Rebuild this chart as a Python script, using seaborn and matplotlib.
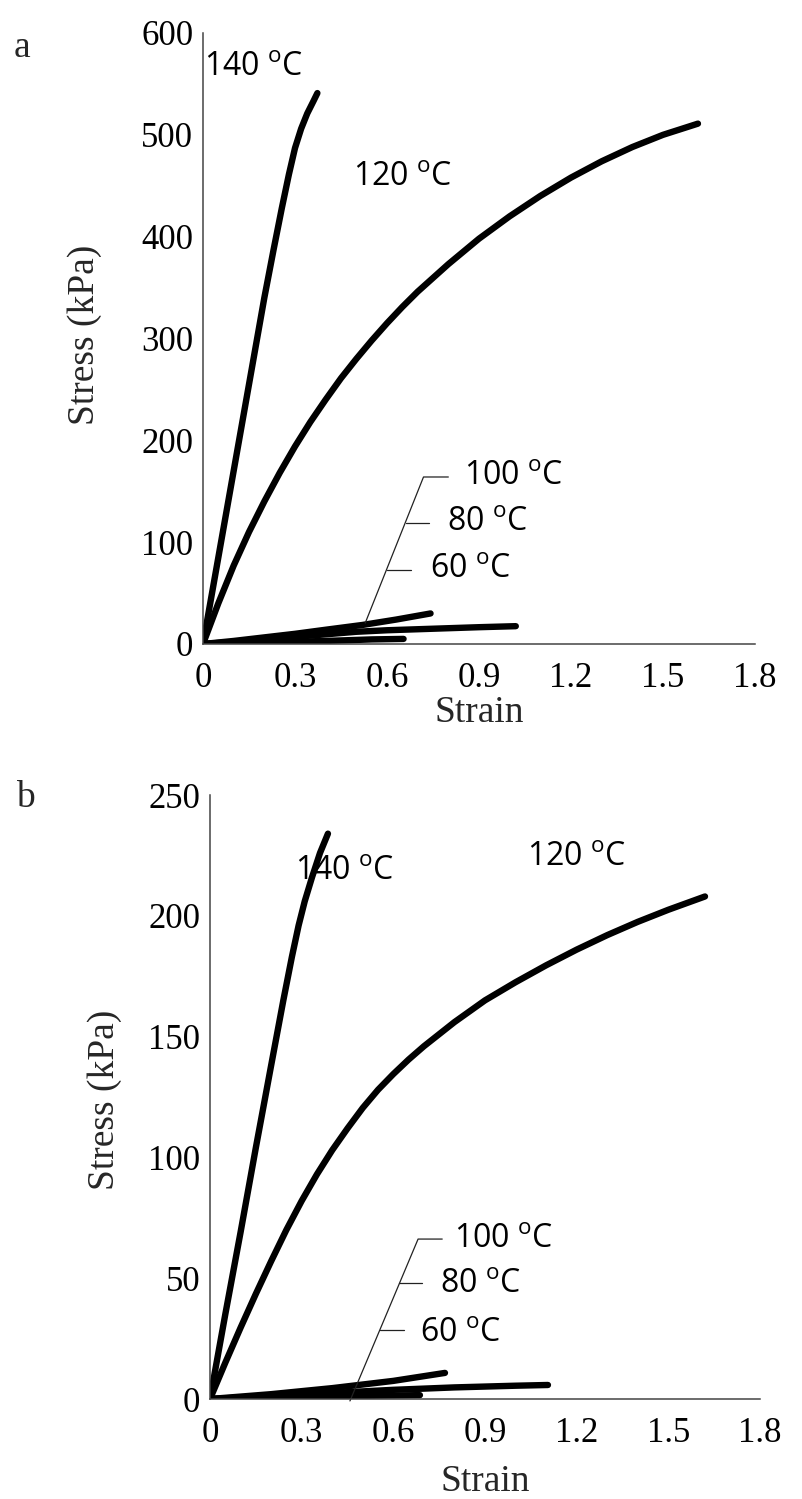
import matplotlib
matplotlib.use("Agg")
import matplotlib.pyplot as plt
import seaborn as sns

sns.set_theme(style="white")
plt.rcParams['font.family'] = ['Liberation Serif', 'DejaVu Sans']

# ---------------- data ----------------
# Panel a
a140_strain = [0, 0.05, 0.10, 0.15, 0.20, 0.23, 0.257, 0.28, 0.30, 0.32, 0.34, 0.36, 0.373]
a140_stress = [0, 85, 170, 255, 340, 387, 428, 461, 487, 506, 521, 533, 541]
a120_strain = [0, 0.05, 0.1, 0.15, 0.2, 0.25, 0.3, 0.35, 0.4, 0.45, 0.5, 0.55, 0.6, 0.65,
               0.7, 0.8, 0.9, 1.0, 1.1, 1.2, 1.3, 1.4, 1.5, 1.614]
a120_stress = [0, 40, 77, 110, 140, 168, 194, 218, 240, 261, 280, 298, 315, 331,
               346, 373, 398, 420, 440, 458, 474, 488, 500, 511]
a100_strain = [0, 0.1, 0.2, 0.3, 0.4, 0.52, 0.63, 0.742]
a100_stress = [0, 3, 6.5, 10, 14, 18.7, 24, 30]
a80_strain = [0, 0.1, 0.2, 0.3, 0.4, 0.5, 0.6, 0.7, 0.8, 0.9, 1.02]
a80_stress = [0, 2, 4.5, 7, 9.5, 12, 13.5, 14.5, 15.5, 16.5, 17.5]
a60_strain = [0, 0.2, 0.4, 0.55, 0.654]
a60_stress = [0, 1.5, 3, 4.5, 5]

# Panel b
b140_strain = [0, 0.05, 0.10, 0.15, 0.20, 0.24, 0.268, 0.29, 0.31, 0.334, 0.36, 0.386]
b140_stress = [0, 35, 69, 104, 138, 165, 183, 196, 206, 216, 226, 234]
b120_strain = [0, 0.05, 0.1, 0.15, 0.2, 0.25, 0.3, 0.35, 0.4, 0.45, 0.5, 0.55, 0.6, 0.65,
               0.7, 0.8, 0.9, 1.0, 1.1, 1.2, 1.3, 1.4, 1.5, 1.62]
b120_stress = [0, 15, 29.5, 43.5, 57, 70, 82, 93, 103, 112, 120.5, 128, 134.5, 140.5,
               146, 156, 165, 172.5, 179.5, 186, 192, 197.5, 202.5, 208]
b100_strain = [0, 0.2, 0.4, 0.6, 0.769]
b100_stress = [0, 2, 4.5, 7.5, 10.8]
b80_strain = [0, 0.2, 0.4, 0.6, 0.8, 1.0, 1.106]
b80_stress = [0, 1.2, 2.5, 3.8, 4.8, 5.5, 5.8]
b60_strain = [0, 0.3, 0.5, 0.687]
b60_stress = [0, 0.8, 1.3, 1.6]

x_ticks = [0, 0.3, 0.6, 0.9, 1.2, 1.5, 1.8]
x_ticklabels = ["0", "0.3", "0.6", "0.9", "1.2", "1.5", "1.8"]
a_yticks = [0, 100, 200, 300, 400, 500, 600]
b_yticks = [0, 50, 100, 150, 200, 250]

temps = ["140", "120", "100", "80", "60"]

# ---------------- figure ----------------
W, H = 803, 1499
fig = plt.figure(figsize=(W / 100, H / 100), dpi=100)

def box(l, r, t, b):
    return [l / W, 1 - b / H, (r - l) / W, (b - t) / H]

ax_a = fig.add_axes(box(203, 755, 33, 644))
ax_b = fig.add_axes(box(210, 760, 795, 1399))

LW = 4.6

def draw(ax, series):
    for xs, ys in series:
        sns.lineplot(x=xs, y=ys, ax=ax, color="black", lw=LW, sort=False,
                     estimator=None, solid_capstyle="round", solid_joinstyle="round")

draw(ax_a, [(a140_strain, a140_stress), (a120_strain, a120_stress),
            (a100_strain, a100_stress), (a80_strain, a80_stress),
            (a60_strain, a60_stress)])
draw(ax_b, [(b140_strain, b140_stress), (b120_strain, b120_stress),
            (b100_strain, b100_stress), (b80_strain, b80_stress),
            (b60_strain, b60_stress)])

TICK_FS = 25
LABEL_FS = 27

def style(ax, ymax, yticks):
    ax.set_xlim(0, 1.8)
    ax.set_ylim(0, ymax)
    ax.set_xticks(x_ticks)
    ax.set_xticklabels(x_ticklabels)
    ax.set_yticks(yticks)
    ax.set_yticklabels([str(v) for v in yticks])
    for s in ["top", "right"]:
        ax.spines[s].set_visible(False)
    for s in ["left", "bottom"]:
        ax.spines[s].set_color("#444444")
        ax.spines[s].set_linewidth(1.1)
    ax.tick_params(axis="both", length=0, labelsize=TICK_FS, colors="black")
    ax.tick_params(axis="x", pad=13)
    ax.tick_params(axis="y", pad=7)
    ax.set_facecolor("white")
    ax.grid(False)

style(ax_a, 600, a_yticks)
style(ax_b, 250, b_yticks)

for ax in (ax_a, ax_b):
    ax.set_xlabel("Strain", fontsize=LABEL_FS)
    ax.set_ylabel("Stress (kPa)", fontsize=LABEL_FS)
ax_a.xaxis.set_label_coords(0.5, -0.112, transform=ax_a.transAxes)
ax_a.xaxis.label.set_va("center")
ax_b.xaxis.set_label_coords(0.5, -0.137, transform=ax_b.transAxes)
ax_b.xaxis.label.set_va("center")
ax_a.yaxis.set_label_coords(-0.214, 0.506, transform=ax_a.transAxes)
ax_a.yaxis.label.set_va("center")
ax_b.yaxis.set_label_coords(-0.191, 0.495, transform=ax_b.transAxes)
ax_b.yaxis.label.set_va("center")

LBL_FONT = ["Open Sans", "DejaVu Sans"]
def lab(t):
    return t + r" $^{\mathregular{o}}$C"

def label(ax, x, y, t):
    ax.text(x, y, lab(t), fontsize=23, family=LBL_FONT, va="center", ha="left",
            color="black")

# panel a labels
label(ax_a, 0.003, 566, temps[0])
label(ax_a, 0.49, 458, temps[1])
label(ax_a, 0.85, 164, temps[2])
label(ax_a, 0.797, 119, temps[3])
label(ax_a, 0.739, 72.7, temps[4])
# leader lines a
LC = "#222222"
ax_a.plot([0.529, 0.719, 0.80], [20.6, 164, 164], color=LC, lw=0.9)
ax_a.plot([0.661, 0.738], [119, 119], color=LC, lw=0.9)
ax_a.plot([0.601, 0.679], [72.7, 72.7], color=LC, lw=0.9)

# panel b labels
label(ax_b, 0.278, 218.5, temps[0])
label(ax_b, 1.037, 224, temps[1])
label(ax_b, 0.80, 66.2, temps[2])
label(ax_b, 0.753, 47.2, temps[3])
label(ax_b, 0.687, 27.3, temps[4])
ax_b.plot([0.458, 0.681, 0.76], [-0.8, 66.2, 66.2], color=LC, lw=0.9,
          clip_on=False)
ax_b.plot([0.620, 0.695], [48, 48], color=LC, lw=0.9)
ax_b.plot([0.556, 0.634], [28.5, 28.5], color=LC, lw=0.9)

fig.text(22 / W, 1 - 48 / H, "a", fontsize=27, ha="center", va="center")
fig.text(25 / W, 1 - 798 / H, "b", fontsize=27, ha="center", va="center")

fig.savefig("out.png", dpi=100, facecolor="white")
